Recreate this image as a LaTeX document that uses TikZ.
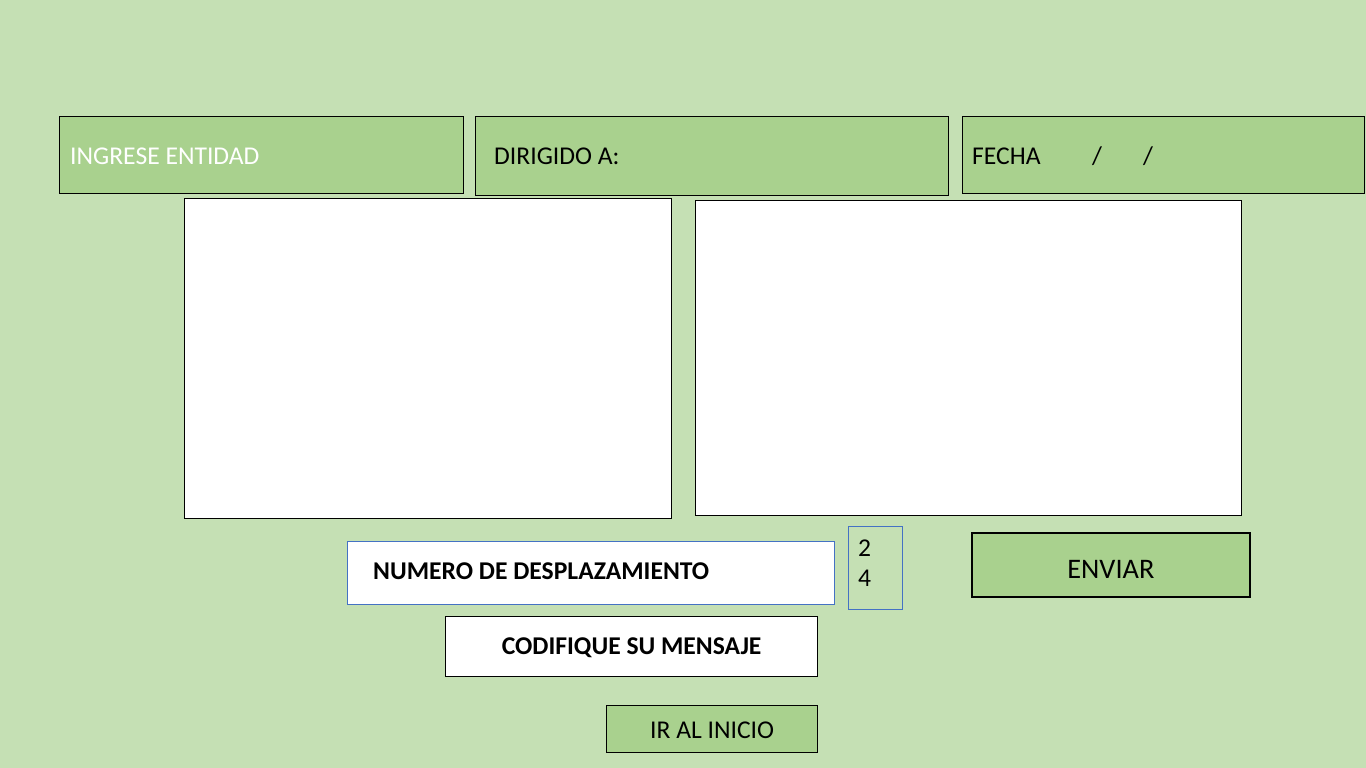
\documentclass[tikz,border=0pt]{standalone}
\usepackage{fontspec}
\setmainfont{Carlito}
\definecolor{bg}{HTML}{C5E0B4}
\definecolor{gbox}{HTML}{A9D18E}
\definecolor{bline}{HTML}{4472C4}
\begin{document}
\begin{tikzpicture}[x=1pt,y=-1pt,
  gfield/.style={draw=black,line width=1.2pt,fill=gbox,anchor=north west,inner sep=0pt},
  wfield/.style={draw=black,line width=1.2pt,fill=white,anchor=north west,inner sep=0pt},
  bfield/.style={draw=bline,line width=0.9pt,anchor=north west,inner sep=0pt},
  txt/.style={font=\fontsize{25.6}{30}\selectfont,inner sep=0pt},
  btxt/.style={font=\fontsize{25.6}{30}\selectfont\bfseries,inner sep=0pt}]
\fill[bg] (0,0) rectangle (1366,768);
\useasboundingbox (0,0) rectangle (1366,768);
% top row
\node[gfield,minimum width=404,minimum height=77] (ent) at (59,116) {};
\node[txt,anchor=west,text=white] (entt) at ([xshift=11,yshift=-1]ent.west) {INGRESE ENTIDAD};
\node[gfield,minimum width=473,minimum height=79] (dir) at (475,116) {};
\node[txt,anchor=west] (dirt) at ([xshift=19]dir.west) {DIRIGIDO A:};
\node[gfield,minimum width=402,minimum height=77] (fec) at (962,116) {};
\node[txt,anchor=west] (fect) at ([xshift=10,yshift=-1]fec.west) {FECHA};
\node[txt] (s1) at (1097,156) {/};
\node[txt] (s2) at (1148,156) {/};
% text areas
\node[wfield,minimum width=487,minimum height=320] (left) at (184,198) {};
\node[wfield,minimum width=546,minimum height=315] (right) at (695,200) {};
% bottom controls
\node[bfield,fill=white,minimum width=487,minimum height=63] (num) at (347,541) {};
\node[btxt,anchor=west] (numt) at ([xshift=26,yshift=2]num.west) {NUMERO DE DESPLAZAMIENTO};
\node[bfield,minimum width=54,minimum height=83] (val) at (848,526) {};
\node[txt,anchor=west] (v2) at (858,548) {2};
\node[txt,anchor=west] (v4) at (858,578) {4};
\node[gfield,line width=1.8pt,minimum width=278,minimum height=64] (env) at (971,532) {};
\node[txt,font=\fontsize{28.3}{33}\selectfont] (envt) at ([yshift=-5]env.center) {ENVIAR};
\node[wfield,minimum width=372,minimum height=60] (cod) at (445,616) {};
\node[btxt] (codt) at ([yshift=-1]cod.center) {CODIFIQUE SU MENSAJE};
\node[gfield,minimum width=211,minimum height=47] (ini) at (606,705) {};
\node[txt] (init) at ([yshift=-1]ini.center) {IR AL INICIO};
\end{tikzpicture}
\end{document}
